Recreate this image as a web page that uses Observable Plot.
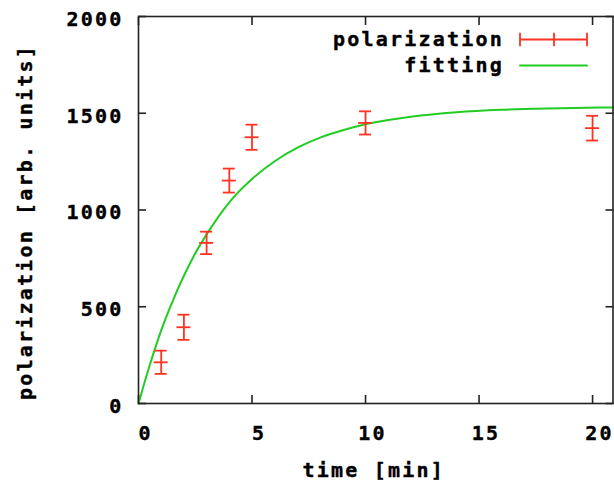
<!DOCTYPE html>
<html>
<head>
<meta charset="utf-8">
<script src="https://cdn.jsdelivr.net/npm/d3@7"></script>
<script src="https://cdn.jsdelivr.net/npm/@observablehq/plot@0.6"></script>
<style>
  html, body { margin: 0; padding: 0; background: #fff; }
</style>
</head>
<body>
<div id="chart"></div>
<script>
// Measured data points (time in min, polarization in arb. units, error)
const times = [1, 2, 3, 4, 5, 10, 20];
const polarization = [213, 394, 830, 1152, 1376, 1450, 1423];
const errors = [60, 65, 58, 62, 65, 60, 64];

// Fitting curve
const fitTimes = [0, 0.5, 1, 1.5, 2, 2.5, 3, 4, 5, 6, 7, 8, 9, 10, 11, 12, 14, 16, 18, 20.9];
const fitValues = [0, 200, 378, 528, 660, 776, 874, 1040, 1160, 1252, 1322, 1374, 1412, 1443, 1465, 1482, 1505, 1518, 1525, 1530];

const xTicks = [0, 5, 10, 15, 20];
const yTicks = [0, 500, 1000, 1500, 2000];
const xLabel = "time [min]";
const yLabel = "polarization [arb. units]";
const legendLabels = ["polarization", "fitting"];

const points = times.map((t, i) => ({t, y: polarization[i], e: errors[i]}));
const fit = fitTimes.map((t, i) => ({t, y: fitValues[i]}));

const RED = "#ff3322";
const GREEN = "#22cc22";
const FRAME = "#222";
const TEXT = "#000";

const errShape = {
  draw(ctx) {
    ctx.moveTo(0, 0); ctx.lineTo(67, 0);
    ctx.moveTo(0, -6); ctx.lineTo(0, 6);
    ctx.moveTo(67, -6); ctx.lineTo(67, 6);
    ctx.moveTo(34, -6); ctx.lineTo(34, 6);
  }
};
const lineShape = { draw(ctx) { ctx.moveTo(0, 0); ctx.lineTo(67, 0); } };

const txt = {fill: TEXT, stroke: TEXT, strokeWidth: 0.4, lineAnchor: "middle"};

const chart = Plot.plot({
  width: 614,
  height: 486,
  marginLeft: 138,
  marginRight: 1.5,
  marginTop: 16,
  marginBottom: 83,
  style: {fontFamily: "DejaVu Sans Mono", fontWeight: "bold", fontSize: "20px", letterSpacing: "2.2px", color: TEXT, background: "#fff"},
  x: {domain: [0, 20.9]},
  y: {domain: [0, 2000]},
  marks: [
    // inward ticks on all four sides
    Plot.axisX(xTicks, {anchor: "bottom", tickSize: -8, stroke: FRAME, strokeWidth: 1.6, tickFormat: () => "", label: null}),
    Plot.axisX(xTicks, {anchor: "top", tickSize: -8, stroke: FRAME, strokeWidth: 1.6, tickFormat: () => "", label: null}),
    Plot.axisY(yTicks, {anchor: "left", tickSize: -8, stroke: FRAME, strokeWidth: 1.6, tickFormat: () => "", label: null}),
    Plot.axisY(yTicks, {anchor: "right", tickSize: -8, stroke: FRAME, strokeWidth: 1.6, tickFormat: () => "", label: null}),
    // tick labels
    Plot.text(xTicks, {x: d => d, frameAnchor: "bottom", textAnchor: "middle", dy: 30, dx: 7, text: d => String(d), ...txt}),
    Plot.text(yTicks, {y: d => d, frameAnchor: "left", textAnchor: "end", dx: -15, dy: 3, text: d => String(d), ...txt}),
    // axis titles
    Plot.text([xLabel], {frameAnchor: "bottom", textAnchor: "middle", dy: 67, dx: -2, text: d => d, ...txt}),
    Plot.text([yLabel], {frameAnchor: "left", textAnchor: "middle", dx: -113, dy: 12, rotate: -90, text: d => d, ...txt}),
    // fitting curve
    Plot.line(fit, {x: "t", y: "y", stroke: GREEN, strokeWidth: 2, curve: "monotone-x"}),
    // error bars
    Plot.ruleX(points, {x: "t", y1: d => d.y - d.e, y2: d => d.y + d.e, stroke: RED, strokeWidth: 1.8}),
    Plot.ruleY(points, {y: d => d.y - d.e, x1: "t", x2: "t", insetLeft: -6, insetRight: -6, stroke: RED, strokeWidth: 1.8}),
    Plot.ruleY(points, {y: d => d.y + d.e, x1: "t", x2: "t", insetLeft: -6, insetRight: -6, stroke: RED, strokeWidth: 1.8}),
    Plot.ruleY(points, {y: "y", x1: "t", x2: "t", insetLeft: -7, insetRight: -7, stroke: RED, strokeWidth: 1.8}),
    // legend
    Plot.text([legendLabels[0]], {frameAnchor: "top-right", textAnchor: "end", dx: -109, dy: 23, text: d => d, ...txt}),
    Plot.text([legendLabels[1]], {frameAnchor: "top-right", textAnchor: "end", dx: -109, dy: 49, text: d => d, ...txt}),
    Plot.vector([0], {frameAnchor: "top-right", dx: -93, dy: 23, length: 67, rotate: 0, anchor: "start", shape: errShape, stroke: RED, strokeWidth: 1.8}),
    Plot.vector([0], {frameAnchor: "top-right", dx: -93, dy: 49, length: 67, rotate: 0, anchor: "start", shape: lineShape, stroke: GREEN, strokeWidth: 2}),
    Plot.frame({stroke: FRAME, strokeWidth: 1.6})
  ]
});
document.getElementById("chart").appendChild(chart);
</script>
</body>
</html>
